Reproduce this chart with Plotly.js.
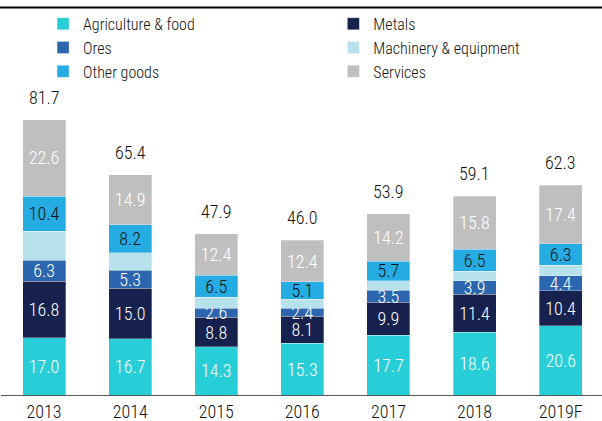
<!DOCTYPE html>
<html>
<head>
<meta charset="utf-8">
<script src="https://cdn.plot.ly/plotly-3.0.1.min.js"></script>
<style>html,body{margin:0;padding:0;background:#fff;}#chart{width:602px;height:421px;}</style>
</head>
<body>
<div id="chart"></div>
<script>
const categories = ["2013", "2014", "2015", "2016", "2017", "2018", "2019F"];
const agricultureFood = [17.0, 16.7, 14.3, 15.3, 17.7, 18.6, 20.6];
const metals = [16.8, 15.0, 8.8, 8.1, 9.9, 11.4, 10.4];
const ores = [6.3, 5.3, 2.6, 2.4, 3.5, 3.9, 4.4];
const machineryEquipment = [8.6, 5.3, 3.3, 2.7, 2.9, 2.9, 3.2];
const otherGoods = [10.4, 8.2, 6.5, 5.1, 5.7, 6.5, 6.3];
const services = [22.6, 14.9, 12.4, 12.4, 14.2, 15.8, 17.4];
const totals = [81.7, 65.4, 47.9, 46.0, 53.9, 59.1, 62.3];

const FONT = "'Roboto Condensed', 'Roboto', sans-serif";

function series(name, values, color, textColor, showText, legendId) {
  return {
    type: "bar", name: name, x: categories, y: values,
    legend: legendId,
    marker: {color: color, line: {color: "rgba(255,255,255,0.6)", width: 0.5}},
    text: showText ? values.map(v => v.toFixed(1)) : undefined,
    texttemplate: showText ? "%{text}" : "",
    textposition: showText ? "inside" : "none",
    insidetextanchor: "middle",
    textangle: 0,
    constraintext: "none",
    textfont: {family: FONT, size: 18, weight: 300, color: textColor},
    hoverinfo: "x+y+name"
  };
}

const data = [
  series("Agriculture & food", agricultureFood, "#27CED7", "#ffffff", true, "legend"),
  series("Metals", metals, "#16214D", "#ffffff", true, "legend2"),
  series("Ores", ores, "#2B66AE", "#ffffff", true, "legend"),
  series("Machinery & equipment", machineryEquipment, "#B7E2EC", "#000000", false, "legend2"),
  series("Other goods", otherGoods, "#25ADE3", "#111111", true, "legend"),
  series("Services", services, "#BFBFBF", "#ffffff", true, "legend2")
];

const annotations = categories.map((c, i) => ({
  x: i, y: totals[i], xref: "x", yref: "y",
  text: totals[i].toFixed(1), showarrow: false,
  yanchor: "bottom", yshift: 10,
  font: {family: FONT, size: 18, weight: 300, color: "#111111"}
}));

const legendBase = {
  orientation: "v", y: 1.281, xanchor: "left", yanchor: "top",
  traceorder: "normal", tracegroupgap: 0, itemclick: false,
  font: {family: FONT, size: 16, weight: 300, color: "#111111"},
  bgcolor: "rgba(0,0,0,0)"
};

const layout = {
  width: 602, height: 421,
  margin: {l: 1, r: 0, t: 92, b: 25.5, pad: 0},
  paper_bgcolor: "#ffffff", plot_bgcolor: "#ffffff",
  barmode: "stack", bargap: 0.5,
  showlegend: true,
  legend: Object.assign({}, legendBase, {x: 0.07}),
  legend2: Object.assign({}, legendBase, {x: 0.553}),
  xaxis: {
    type: "category", range: [-0.5, 6.48],
    showline: true, linecolor: "#595959", linewidth: 1,
    ticks: "", showgrid: false, zeroline: false,
    tickfont: {family: FONT, size: 18, weight: 300, color: "#111111"}
  },
  yaxis: {
    range: [0, 90], visible: false, showgrid: false, zeroline: false
  },
  annotations: annotations,
  shapes: [{
    type: "line", xref: "paper", yref: "paper",
    x0: -0.01, x1: 1.01, y0: 1.279, y1: 1.279,
    line: {color: "#000000", width: 2}
  }]
};

Plotly.newPlot("chart", data, layout, {displayModeBar: false, staticPlot: true});
</script>
</body>
</html>
